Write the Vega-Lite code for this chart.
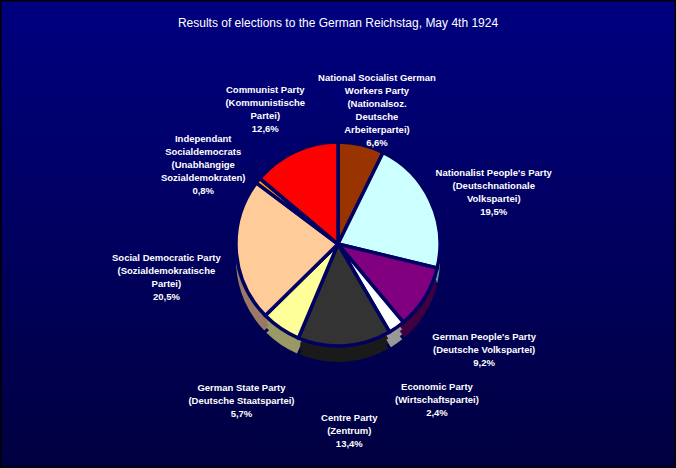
{
  "$schema": "https://vega.github.io/schema/vega-lite/v6.json",
  "autosize": {"type": "fit", "contains": "padding"},
  "width": 676,
  "height": 468,
  "padding": 0,
  "background": "#000070",
  "title": {
    "text": "Results of elections to the German Reichstag, May 4th 1924",
    "color": "white",
    "font": "Liberation Sans",
    "fontSize": 12,
    "fontWeight": "normal",
    "anchor": "middle",
    "offset": -30
  },
  "view": {
    "stroke": "black",
    "strokeWidth": 3,
    "fill": {
      "gradient": "linear",
      "x1": 0, "y1": 0, "x2": 0, "y2": 1,
      "stops": [
        {"offset": 0, "color": "#000080"},
        {"offset": 1, "color": "#000040"}
      ]
    }
  },
  "data": {
    "values": [
      {"idx": 1, "party": "NSDAP", "votes": 6.6, "label": "National Socialist German\nWorkers Party\n(Nationalsoz.\nDeutsche\nArbeiterpartei)\n6,6%"},
      {"idx": 2, "party": "DNVP", "votes": 19.5, "label": "Nationalist People's Party\n(Deutschnationale\nVolkspartei)\n19,5%"},
      {"idx": 3, "party": "DVP", "votes": 9.2, "label": "German People's Party\n(Deutsche Volkspartei)\n9,2%"},
      {"idx": 4, "party": "WP", "votes": 2.4, "label": "Economic Party\n(Wirtschaftspartei)\n2,4%"},
      {"idx": 5, "party": "Zentrum", "votes": 13.4, "label": "Centre Party\n(Zentrum)\n13,4%"},
      {"idx": 6, "party": "DDP", "votes": 5.7, "label": "German State Party\n(Deutsche Staatspartei)\n5,7%"},
      {"idx": 7, "party": "SPD", "votes": 20.5, "label": "Social Democratic Party\n(Sozialdemokratische\nPartei)\n20,5%"},
      {"idx": 8, "party": "USPD", "votes": 0.8, "label": "Independant\nSocialdemocrats\n(Unabhängige\nSozialdemokraten)\n0,8%"},
      {"idx": 9, "party": "KPD", "votes": 12.6, "label": "Communist Party\n(Kommunistische\nPartei)\n12,6%"}
    ]
  },
  "encoding": {
    "theta": {"field": "votes", "type": "quantitative", "stack": true},
    "order": {"field": "idx", "type": "quantitative"}
  },
  "layer": [
    {
      "mark": {"type": "arc", "radius": 102, "padAngle": 0.03, "yOffset": 26},
      "encoding": {
        "fill": {
          "field": "party", "type": "nominal", "legend": null,
          "scale": {
            "domain": ["NSDAP", "DNVP", "DVP", "WP", "Zentrum", "DDP", "SPD", "USPD", "KPD"],
            "range": ["#4d1a00", "#669999", "#400040", "#999999", "#1a1a1a", "#999966", "#997a66", "#995c00", "#800000"]
          }
        }
      }
    },
    {
      "mark": {"type": "arc", "radius": 102, "padAngle": 0.03, "yOffset": 21},
      "encoding": {"fill": {"field": "party", "type": "nominal", "legend": null}}
    },
    {
      "mark": {"type": "arc", "radius": 102, "padAngle": 0.03, "yOffset": 16},
      "encoding": {"fill": {"field": "party", "type": "nominal", "legend": null}}
    },
    {
      "mark": {"type": "arc", "radius": 102, "stroke": "#000062", "strokeWidth": 3.5, "yOffset": 10},
      "encoding": {
        "color": {
          "field": "party", "type": "nominal", "legend": null,
          "scale": {
            "domain": ["NSDAP", "DNVP", "DVP", "WP", "Zentrum", "DDP", "SPD", "USPD", "KPD"],
            "range": ["#993300", "#ccffff", "#800080", "#ffffff", "#333333", "#ffff99", "#ffcc99", "#ff9900", "#ff0000"]
          }
        }
      }
    },
    {
      "mark": {
        "type": "text",
        "radius": 172,
        "yOffset": 12,
        "lineBreak": "\n",
        "fill": "white",
        "font": "Liberation Sans",
        "fontWeight": "bold",
        "fontSize": 9.5,
        "lineHeight": 13,
        "align": "center",
        "baseline": "middle"
      },
      "encoding": {"text": {"field": "label", "type": "nominal"}}
    }
  ]
}
